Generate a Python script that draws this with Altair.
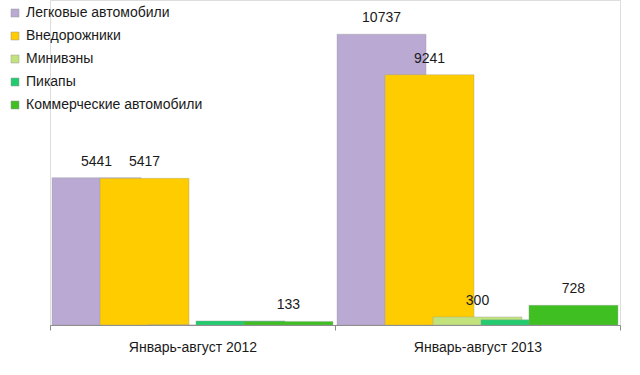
import altair as alt
import pandas as pd

periods = ["Январь-август 2012", "Январь-август 2013"]
series = ["Легковые автомобили", "Внедорожники", "Минивэны", "Пикапы", "Коммерческие автомобили"]
colors = ["#b9a9d3", "#ffcc00", "#c2e27c", "#22cc6e", "#3fbf22"]
values_2012 = [5441, 5417, 0, 150, 133]
values_2013 = [10737, 9241, 300, 190, 728]
labels_2012 = ["5441", "5417", "", "", "133"]
labels_2013 = ["10737", "9241", "300", "", "728"]

rows = []
for p, vals, labs in [(periods[0], values_2012, labels_2012), (periods[1], values_2013, labels_2013)]:
    for i, (s, v, l) in enumerate(zip(series, vals, labs)):
        rows.append({"period": p, "series": s, "value": v, "label": l, "order": i})
df = pd.DataFrame(rows)

FONT = "Liberation Sans"

x = alt.X("period:N", sort=periods, title=None,
          scale=alt.Scale(paddingInner=0, paddingOuter=0),
          axis=alt.Axis(labelAngle=0, labelFontSize=14, labelColor="#1a1a1a", labelFont=FONT,
                        domainColor="#8c8c8c", tickColor="#8c8c8c", tickSize=5,
                        tickBand="extent", labelPadding=10))
xo = alt.XOffset("series:N", sort=series,
                 scale=alt.Scale(paddingInner=0, paddingOuter=0.47))
y = alt.Y("value:Q", scale=alt.Scale(domain=[0, 12000]), axis=None)

bars = alt.Chart(df).mark_bar(width=89, stroke="#9a9a9a", strokeWidth=0.6, strokeOpacity=0.6).encode(
    x=x, xOffset=xo, y=y,
    color=alt.Color("series:N", sort=series,
                    scale=alt.Scale(domain=series, range=colors),
                    legend=alt.Legend(title=None, orient="none", legendX=-42, legendY=6,
                                      symbolType="square", symbolSize=64,
                                      symbolStrokeColor="#999999", symbolStrokeWidth=0.5,
                                      labelFontSize=14, labelFont=FONT, labelColor="#1a1a1a",
                                      rowPadding=9, labelOffset=4, labelLimit=300)),
    order=alt.Order("order:Q"),
)

text = alt.Chart(df).mark_text(dy=-16, fontSize=14, font=FONT, color="#1a1a1a").encode(
    x=x, xOffset=xo, y=y, text="label:N",
)

chart = alt.layer(bars, text).properties(
    width=570, height=325,
    autosize=alt.AutoSizeParams(type="none"),
    padding={"left": 50, "right": 20, "top": 0, "bottom": 50},
).configure_view(stroke=None).configure(background="white")

chart.save("out.html", embed_options={"renderer": "svg", "actions": False})
